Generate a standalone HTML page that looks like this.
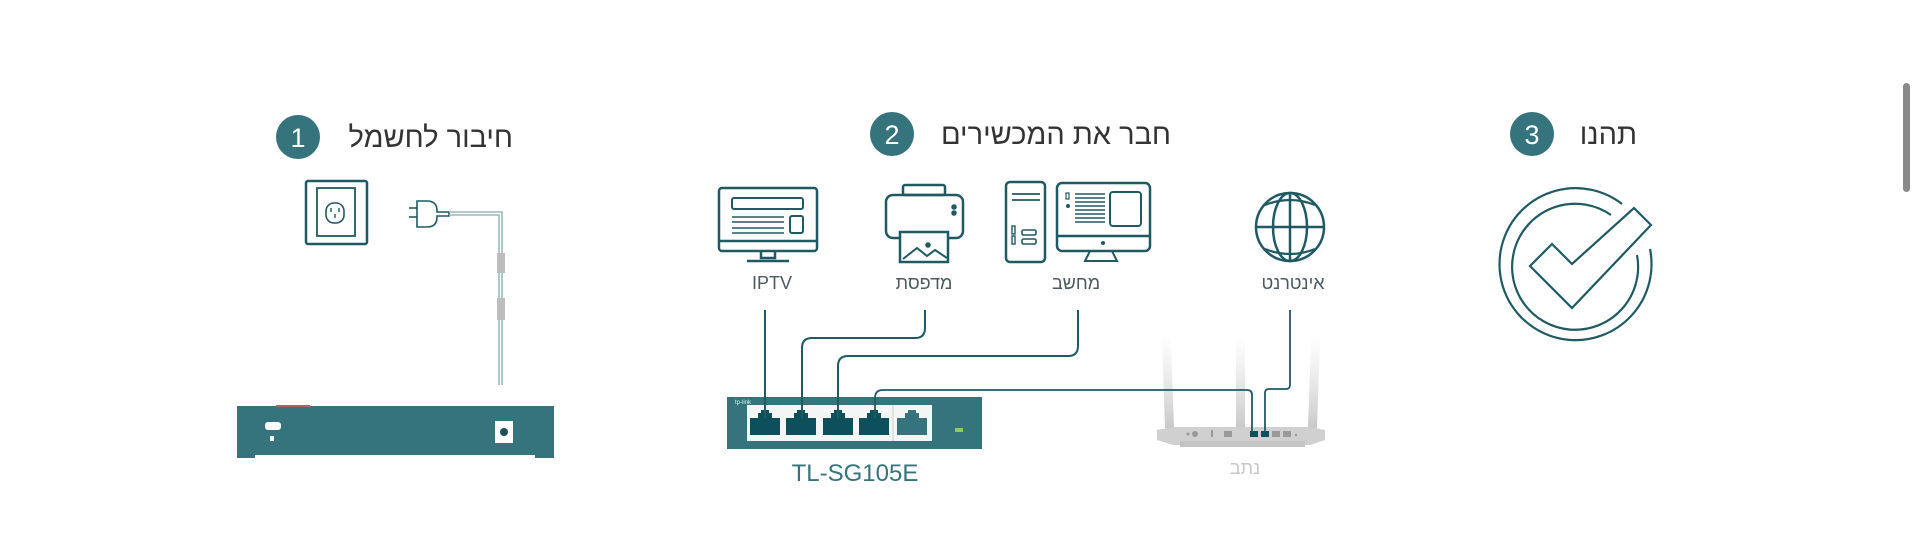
<!DOCTYPE html>
<html><head><meta charset="utf-8"><style>
html,body{margin:0;padding:0;background:#fff;width:1914px;height:553px;overflow:hidden}
svg{display:block}
text{font-family:"Liberation Sans","DejaVu Sans",sans-serif}
</style></head><body>
<svg width="1914" height="553" viewBox="0 0 1914 553" xmlns="http://www.w3.org/2000/svg">
<defs>
<linearGradient id="ant" x1="0" y1="0" x2="0" y2="1">
<stop offset="0" stop-color="#ddd" stop-opacity="0"/><stop offset="1" stop-color="#c8c8c8" stop-opacity="1"/>
</linearGradient>
</defs>
<rect x="1903" y="83" width="7" height="109" rx="3.5" fill="#8a8a8a"/>

<!-- Step 1 -->
<circle cx="298" cy="137" r="22" fill="#35747d"/>
<text x="298" y="147" font-size="27" fill="#fff" text-anchor="middle">1</text>
<text x="513" y="147" font-size="29" fill="#333" text-anchor="end">חיבור לחשמל</text>
<g fill="none" stroke="#1f5a63" stroke-width="2.5">
<rect x="306" y="181" width="61" height="63" rx="2"/>
<rect x="317" y="188" width="38" height="48" stroke-width="1.8"/>
<rect x="326" y="203" width="18" height="20" rx="8" stroke-width="1.6"/>
<path d="M331 208v4M339 208v4M335 214v4" stroke-width="1.4"/>
</g>
<g stroke="#1f5a63" stroke-width="1.6" fill="none">
<path d="M417 201 h10 q10 0 10 10 v1 h12 v4 h-12 v1 q0 10 -10 10 h-10 z" fill="#fff"/>
<line x1="409" y1="208" x2="417" y2="208"/><line x1="409" y1="217" x2="417" y2="217"/>
<path d="M449 212 H502 V385" stroke="#9db8bb"/>
<path d="M449 215 H499 V385" stroke="#9db8bb"/>
</g>
<rect x="497" y="253" width="8" height="20" fill="#bdbdbd"/>
<rect x="497" y="298" width="8" height="22" fill="#bdbdbd"/>
<rect x="237" y="406" width="317" height="49" fill="#35747d"/>
<rect x="276" y="405" width="34" height="2" fill="#b06060"/>
<rect x="237" y="455" width="18" height="3" fill="#35747d"/><rect x="535" y="455" width="19" height="3" fill="#35747d"/>
<rect x="265" y="422" width="16" height="8" rx="3" fill="#fff"/>
<rect x="270" y="436" width="4" height="5" fill="#fff"/>
<rect x="495" y="421" width="18" height="22" fill="#fff"/>
<circle cx="504" cy="432" r="4" fill="#1f4f57"/>

<!-- Step 2 -->
<circle cx="892" cy="134" r="22" fill="#35747d"/>
<text x="892" y="144" font-size="27" fill="#fff" text-anchor="middle">2</text>
<text x="1171" y="144" font-size="29" fill="#333" text-anchor="end">חבר את המכשירים</text>

<g fill="none" stroke="#1f5a63" stroke-width="2.5">
<rect x="719" y="188" width="98" height="63" rx="3"/>
<line x1="719" y1="241" x2="817" y2="241"/>
<rect x="732" y="198" width="71" height="11" rx="2" stroke-width="2"/>
<line x1="732" y1="217" x2="784" y2="217" stroke-width="1.6"/>
<line x1="732" y1="222" x2="784" y2="222" stroke-width="1.6"/>
<line x1="732" y1="228" x2="784" y2="228" stroke-width="1.6"/>
<line x1="732" y1="233" x2="784" y2="233" stroke-width="1.6"/>
<rect x="790" y="216" width="13" height="17" rx="2" stroke-width="2"/>
<path d="M761 251 v7 h14 v-7 M747 261 h42"/>
<rect x="903" y="185" width="42" height="10" rx="2"/>
<rect x="886" y="195" width="77" height="43" rx="7"/>
<rect x="900" y="232" width="48" height="30" fill="#fff"/>
<path d="M903 259 l14 -11 l10 8 l8 -6 l12 8" stroke-width="2"/>
<circle cx="954" cy="207" r="1.5" fill="#1f5a63"/><circle cx="954" cy="213" r="1.5" fill="#1f5a63"/>
<circle cx="928" cy="245" r="1.5" fill="#1f5a63"/>
<rect x="1006" y="182" width="39" height="80" rx="4"/>
<line x1="1012" y1="194" x2="1040" y2="194" stroke-width="1.8"/>
<line x1="1012" y1="200" x2="1040" y2="200" stroke-width="1.8"/>
<rect x="1012" y="226" width="3" height="8" stroke-width="1.4"/>
<rect x="1012" y="236" width="3" height="8" stroke-width="1.4"/>
<rect x="1022" y="230" width="14" height="5" rx="1.5" stroke-width="1.6"/>
<rect x="1022" y="239" width="14" height="5" rx="1.5" stroke-width="1.6"/>
<rect x="1057" y="183" width="93" height="68" rx="5"/>
<line x1="1057" y1="236" x2="1150" y2="236"/>
<rect x="1110" y="192" width="31" height="34" rx="3" stroke-width="2"/>
<path d="M1090 251 l-5 10 h32 l-5 -10" stroke-width="2"/>
<path d="M1075 194h30M1075 198h30M1075 202h30M1075 206h30M1075 210h30M1075 214h30M1075 218h30M1075 222h30" stroke-width="1.5"/>
<rect x="1066" y="193" width="3" height="6" stroke-width="1.2"/>
<circle cx="1068" cy="206" r="2" fill="#1f5a63" stroke="none"/>
<circle cx="1103" cy="243" r="2" fill="#1f5a63" stroke="none"/>
<circle cx="1290" cy="227" r="34"/>
<ellipse cx="1290" cy="227" rx="17" ry="34"/>
<line x1="1290" y1="193" x2="1290" y2="261"/>
<line x1="1256" y1="227" x2="1324" y2="227"/>
<path d="M1265 205 q25 -10 50 0 M1265 249 q25 10 50 0" stroke-width="2.2"/>
</g>
<g font-size="18" fill="#4a5a5e" text-anchor="middle">
<text x="772" y="289">IPTV</text>
<text x="924" y="289">מדפסת</text>
<text x="1076" y="289">מחשב</text>
<text x="1293" y="289">אינטרנט</text>
</g>

<!-- router -->
<g>
<rect x="1165" y="335" width="9" height="93" fill="url(#ant)" transform="rotate(-2 1170 428)"/>
<rect x="1236" y="335" width="9" height="93" fill="url(#ant)"/>
<rect x="1308" y="335" width="9" height="93" fill="url(#ant)" transform="rotate(2 1312 428)"/>
<path d="M1157 430 L1173 427 H1310 L1325 430 V440 L1310 445 H1173 L1157 440 Z" fill="#d0d0d0"/>
<rect x="1180" y="441" width="125" height="6" fill="#c4c4c4"/>
<circle cx="1188" cy="434" r="1.5" fill="#999"/><circle cx="1195" cy="434" r="3" fill="#999"/>
<rect x="1211" y="430" width="2" height="7" fill="#999"/>
<rect x="1224" y="431" width="8" height="6" fill="#999"/>
<rect x="1250" y="431" width="8" height="6" fill="#0e4f5c"/>
<rect x="1261" y="431" width="8" height="6" fill="#0e4f5c"/>
<rect x="1272" y="431" width="8" height="6" fill="#999"/>
<rect x="1283" y="431" width="8" height="6" fill="#999"/>
<circle cx="1296" cy="435" r="1.2" fill="#999"/>
</g>
<text x="1245" y="474" font-size="18" fill="#c6c6c6" text-anchor="middle">נתב</text>

<!-- switch front -->
<rect x="727" y="397" width="255" height="52" fill="#35747d"/>
<text x="735" y="404" font-size="6" fill="#cfe">tp-link</text>
<rect x="747" y="405" width="185" height="36" fill="#f4f6f6"/>
<line x1="893" y1="405" x2="893" y2="441" stroke="#ccc" stroke-width="1"/>
<g fill="#0e4f5c">
<path d="M750 418 h8 v-5 h3 v-3 h8 v3 h3 v5 h8 v17 h-30z"/>
<path d="M786 418 h8 v-5 h3 v-3 h8 v3 h3 v5 h8 v17 h-30z"/>
<path d="M823 418 h8 v-5 h3 v-3 h8 v3 h3 v5 h8 v17 h-30z"/>
<path d="M859 418 h8 v-5 h3 v-3 h8 v3 h3 v5 h8 v17 h-30z"/>
<path d="M897 418 h8 v-5 h3 v-3 h8 v3 h3 v5 h8 v17 h-30z" fill="#35747d"/>
</g>
<rect x="955" y="428" width="8" height="4" fill="#8ad24a"/>
<text x="855" y="481" font-size="24" fill="#35747d" text-anchor="middle">TL-SG105E</text>

<g fill="none" stroke="#1f5a63" stroke-width="2">
<path d="M765 310 V418"/>
<path d="M925 310 V328 q0 10 -10 10 H812 q-10 0 -10 10 V418"/>
<path d="M1078 310 V346 q0 10 -10 10 H848 q-10 0 -10 10 V418"/>
<path d="M875 418 V398 q0 -8 8 -8 H1247 q5 0 5 5 V432" stroke-width="1.8"/>
<path d="M1290 310 V385 q0 4 -4 4 H1269 q-4 0 -4 4 V432" stroke-width="1.8"/>
</g>

<!-- Step 3 -->
<circle cx="1532" cy="134" r="22" fill="#35747d"/>
<text x="1532" y="144" font-size="27" fill="#fff" text-anchor="middle">3</text>
<text x="1637" y="144" font-size="29" fill="#333" text-anchor="end">תהנו</text>
<g fill="none" stroke="#1f5a63" stroke-width="2.2">
<path d="M1622 204 A76 76 0 1 0 1650 249"/>
<path d="M1611 215 A63 63 0 1 0 1637 255"/>
<path d="M1530 266 L1552 244 L1572 264 L1634 208 L1651 225 L1572 308 Z"/>
</g>
</svg>
</body></html>
